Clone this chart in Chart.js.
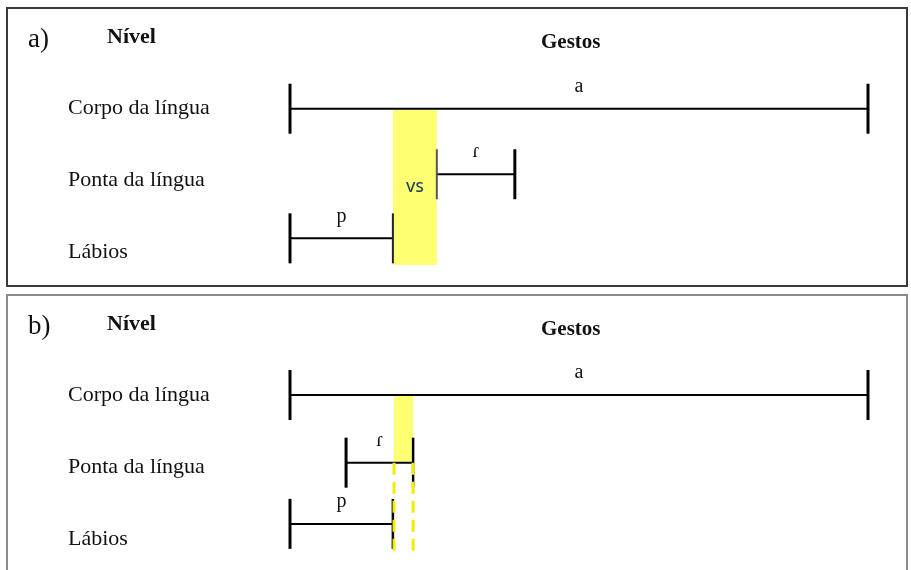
<!DOCTYPE html>
<html><head><meta charset="utf-8">
<script src="https://cdn.jsdelivr.net/npm/chart.js@4.4.1/dist/chart.umd.min.js"></script>
<style>
html,body{margin:0;padding:0;background:#fff;width:911px;height:570px;overflow:hidden;position:relative;font-family:'Liberation Serif','Times New Roman',serif;}
.box{position:absolute;box-sizing:border-box;}
#boxA{left:6px;top:7px;width:902px;height:280px;border:2px solid #3a3a3a;}
#boxB{left:6px;top:294px;width:902px;height:290px;border:2px solid #8a8a8a;}
canvas{position:absolute;left:0;}
.t{position:absolute;transform:translateY(-50%);white-space:nowrap;color:#111;line-height:1;}
.b{font-weight:bold;font-size:21px;}
</style></head><body>
<div class="box" id="boxA"></div>
<div class="box" id="boxB"></div>
<canvas id="cA" width="911" height="287" style="top:0"></canvas>
<canvas id="cB" width="911" height="283" style="top:287px"></canvas>
<span class="t" style="left:28px;top:38px;font-size:27px">a)</span>
<span class="t b" style="left:107px;top:36px;font-size:22px">Nível</span>
<span class="t b" style="left:541px;top:41px">Gestos</span>
<span class="t" style="left:28px;top:325px;font-size:27px">b)</span>
<span class="t b" style="left:107px;top:323px;font-size:22px">Nível</span>
<span class="t b" style="left:541px;top:328px">Gestos</span>
<script>
// ---- data ----
const levels = ['Corpo da língua', 'Ponta da língua', 'Lábios'];
const levelTicks = [3, 2, 1];

// panel a
const gestA = ['a', 'ɾ', 'p'];
const startA = [0, 25.4, 0];
const endA = [100, 38.9, 17.8];
const heightA = [2.99, 2.08, 1.19];
const vsLabelA = 'VS';
const vsXA = [17.8, 25.4];
const vsYA = [2.97, 0.82];

// panel b
const gestB = ['a', 'ɾ', 'p'];
const startB = [0, 9.7, 0];
const endB = [100, 21.3, 17.8];
const heightB = [3.0, 2.06, 1.21];
const vsXB = [18.0, 21.3];
const vsYB = [3.0, 2.06];
const dashYB = [2.06, 0.78];

// ---- rendering ----
const SERIF = "'Liberation Serif','Times New Roman',serif";
const YELLOW = '#ffff72';
const PX_PER_LEVEL = 72, PAD_TOP = 72, PAD_BOTTOM = 20, Y_MAX = 3.5;

function buildChart(id, cfg) {
  const canvas = document.getElementById(id);
  const yMin = Y_MAX - (canvas.height - PAD_TOP - PAD_BOTTOM) / PX_PER_LEVEL;
  const datasets = cfg.names.map((n, i) => ({
    type: 'line',
    label: n,
    data: [{x: cfg.starts[i], y: cfg.heights[i]}, {x: cfg.ends[i], y: cfg.heights[i]}],
    borderColor: '#000',
    borderWidth: 2,
    pointStyle: 'line',
    pointRotation: 90,
    pointRadius: 25,
    pointHoverRadius: 25,
    pointBorderColor: cfg.capColors[i],
    pointBorderWidth: cfg.capWidths[i],
    clip: false
  }));
  const deco = {
    id: 'deco',
    beforeDatasetsDraw(chart) {
      const {ctx, scales: {x, y}} = chart;
      ctx.save();
      ctx.fillStyle = YELLOW;
      const x0 = x.getPixelForValue(cfg.vsX[0]), x1 = x.getPixelForValue(cfg.vsX[1]);
      const y0 = y.getPixelForValue(cfg.vsY[0]), y1 = y.getPixelForValue(cfg.vsY[1]);
      ctx.fillRect(x0, y0, x1 - x0, y1 - y0);
      ctx.restore();
    },
    afterDatasetsDraw(chart) {
      const {ctx, scales: {x, y}} = chart;
      ctx.save();
      if (cfg.dashY) {
        ctx.strokeStyle = '#f2ee00';
        ctx.lineWidth = 3;
        ctx.setLineDash([12, 7]);
        const ya = y.getPixelForValue(cfg.dashY[0]), yb = y.getPixelForValue(cfg.dashY[1]);
        cfg.vsX.forEach(v => {
          const px = x.getPixelForValue(v);
          ctx.beginPath(); ctx.moveTo(px, ya); ctx.lineTo(px, yb); ctx.stroke();
        });
        ctx.setLineDash([]);
      }
      ctx.fillStyle = '#111';
      ctx.font = '20px ' + SERIF;
      ctx.textAlign = 'center';
      ctx.textBaseline = 'middle';
      cfg.names.forEach((n, i) => {
        const px = x.getPixelForValue((cfg.starts[i] + cfg.ends[i]) / 2);
        const py = y.getPixelForValue(cfg.heights[i]) - 22;
        ctx.fillText(n, px, py);
      });
      if (cfg.vsLabel) {
        ctx.fillStyle = '#1b3d5e';
        ctx.font = "600 15px 'Open Sans', sans-serif";
        const px = x.getPixelForValue((cfg.vsX[0] + cfg.vsX[1]) / 2);
        const py = y.getPixelForValue((cfg.vsY[0] + cfg.vsY[1]) / 2);
        ctx.fillText(cfg.vsLabel, px, py);
      }
      ctx.restore();
    }
  };
  return new Chart(canvas, {
    type: 'line',
    data: {datasets},
    plugins: [deco],
    options: {
      responsive: false,
      animation: false,
      events: [],
      layout: {autoPadding: false, padding: {left: 68, right: 43, top: PAD_TOP, bottom: PAD_BOTTOM}},
      scales: {
        x: {type: 'linear', min: 0, max: 100, display: false},
        y: {
          type: 'linear', min: yMin, max: Y_MAX,
          afterFit: s => { s.width = 222; },
          afterBuildTicks: s => { s.ticks = levelTicks.map(v => ({value: v})); },
          grid: {display: false},
          border: {display: false},
          ticks: {
            crossAlign: 'far',
            color: '#111',
            font: {family: SERIF, size: 22},
            callback: v => levels[levelTicks.indexOf(v)]
          }
        }
      },
      plugins: {legend: {display: false}, tooltip: {enabled: false}, title: {display: false}}
    }
  });
}

buildChart('cA', {
  names: gestA, starts: startA, ends: endA, heights: heightA,
  vsX: vsXA, vsY: vsYA, vsLabel: vsLabelA, dashY: null,
  capColors: [['#000', '#000'], ['#555', '#000'], ['#000', '#222']],
  capWidths: [[3, 3], [2, 3], [3, 2]]
});
buildChart('cB', {
  names: gestB, starts: startB, ends: endB, heights: heightB,
  vsX: vsXB, vsY: vsYB, vsLabel: null, dashY: dashYB,
  capColors: [['#000', '#000'], ['#000', '#000'], ['#000', '#000']],
  capWidths: [[3, 3], [3, 2.5], [3, 2.5]]
});
</script>
</body></html>
